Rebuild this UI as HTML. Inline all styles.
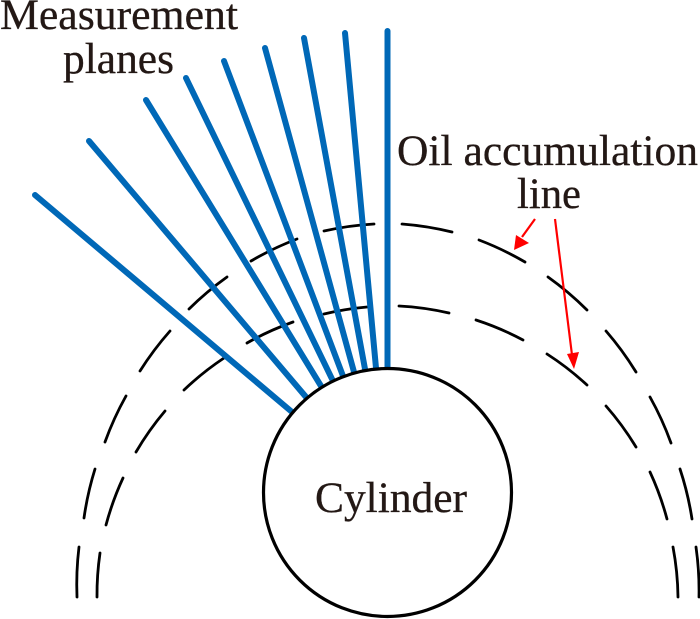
<!DOCTYPE html>
<html><head><meta charset="utf-8"><style>html,body{margin:0;padding:0;background:#fff}svg{display:block}</style></head>
<body>
<svg width="700" height="619" viewBox="0 0 700 619" xmlns="http://www.w3.org/2000/svg">
<g fill="none" stroke="#000" stroke-width="2.8" stroke-linecap="round">
<path d="M77 597A310 310 0 0 1 79 547"/>
<path d="M84 518A310 310 0 0 1 95 469"/>
<path d="M105 442A310 310 0 0 1 126 396"/>
<path d="M140 371A310 310 0 0 1 170 331"/>
<path d="M189 309A310 310 0 0 1 227 277"/>
<path d="M251 261A310 310 0 0 1 297 239"/>
<path d="M324 231A310 310 0 0 1 374 224"/>
<path d="M402 224A310 310 0 0 1 452 232"/>
<path d="M479 240A310 310 0 0 1 525 262"/>
<path d="M548 277A310 310 0 0 1 587 310"/>
<path d="M606 331A310 310 0 0 1 636 372"/>
<path d="M650 397A310 310 0 0 1 671 443"/>
<path d="M680 469A310 310 0 0 1 692 519"/>
<path d="M696 547A310 310 0 0 1 699 597"/>
<path d="M97 597A290 290 0 0 1 100 553"/>
<path d="M106 525A290 290 0 0 1 123 478"/>
<path d="M136 452A290 290 0 0 1 165 411"/>
<path d="M184 390A290 290 0 0 1 224 358"/>
<path d="M247 343A290 290 0 0 1 293 322"/>
<path d="M324 314A290 290 0 0 1 367 307"/>
<path d="M399 306A290 290 0 0 1 449 313"/>
<path d="M476 320A290 290 0 0 1 523 340"/>
<path d="M547 354A290 290 0 0 1 587 385"/>
<path d="M606 406A290 290 0 0 1 636 447"/>
<path d="M650 472A290 290 0 0 1 667 519"/>
<path d="M673 547A290 290 0 0 1 678 597"/>
</g>
<g fill="none" stroke="#0068b7" stroke-width="6" stroke-linecap="round">
<path d="M387.5 31V368"/>
<path d="M345 33L376 368"/>
<path d="M304 38L365 369"/>
<path d="M265 48L354 372"/>
<path d="M224 61L343 376"/>
<path d="M186 78L333 381"/>
<path d="M146 100L321 386"/>
<path d="M89 141L306 397"/>
<path d="M35 195L292 412"/>
</g>
<circle cx="387.5" cy="492.5" r="124" fill="#fff" stroke="#000" stroke-width="3.2"/>
<g stroke="#ff0000" stroke-width="2.2" fill="none">
<path d="M535 219L522 237"/>
<path d="M555 219L572 355"/>
</g>
<g fill="#ff0000">
<path d="M514 250L516 235L529 243Z"/>
<path d="M574 369L567 354L579 352Z"/>
</g>
<g font-family="'Liberation Serif',serif" font-size="43.7" fill="#231815" stroke="#231815" stroke-width="0.3">
<text x="0" y="29" textLength="238" lengthAdjust="spacingAndGlyphs">Measurement</text>
<text x="63" y="73" textLength="111" lengthAdjust="spacingAndGlyphs">planes</text>
<text x="397" y="165" textLength="301" lengthAdjust="spacingAndGlyphs">Oil accumulation</text>
<text x="517" y="208" textLength="64" lengthAdjust="spacingAndGlyphs">line</text>
<text x="315" y="512" textLength="152" lengthAdjust="spacingAndGlyphs">Cylinder</text>
</g>
</svg>
</body></html>
